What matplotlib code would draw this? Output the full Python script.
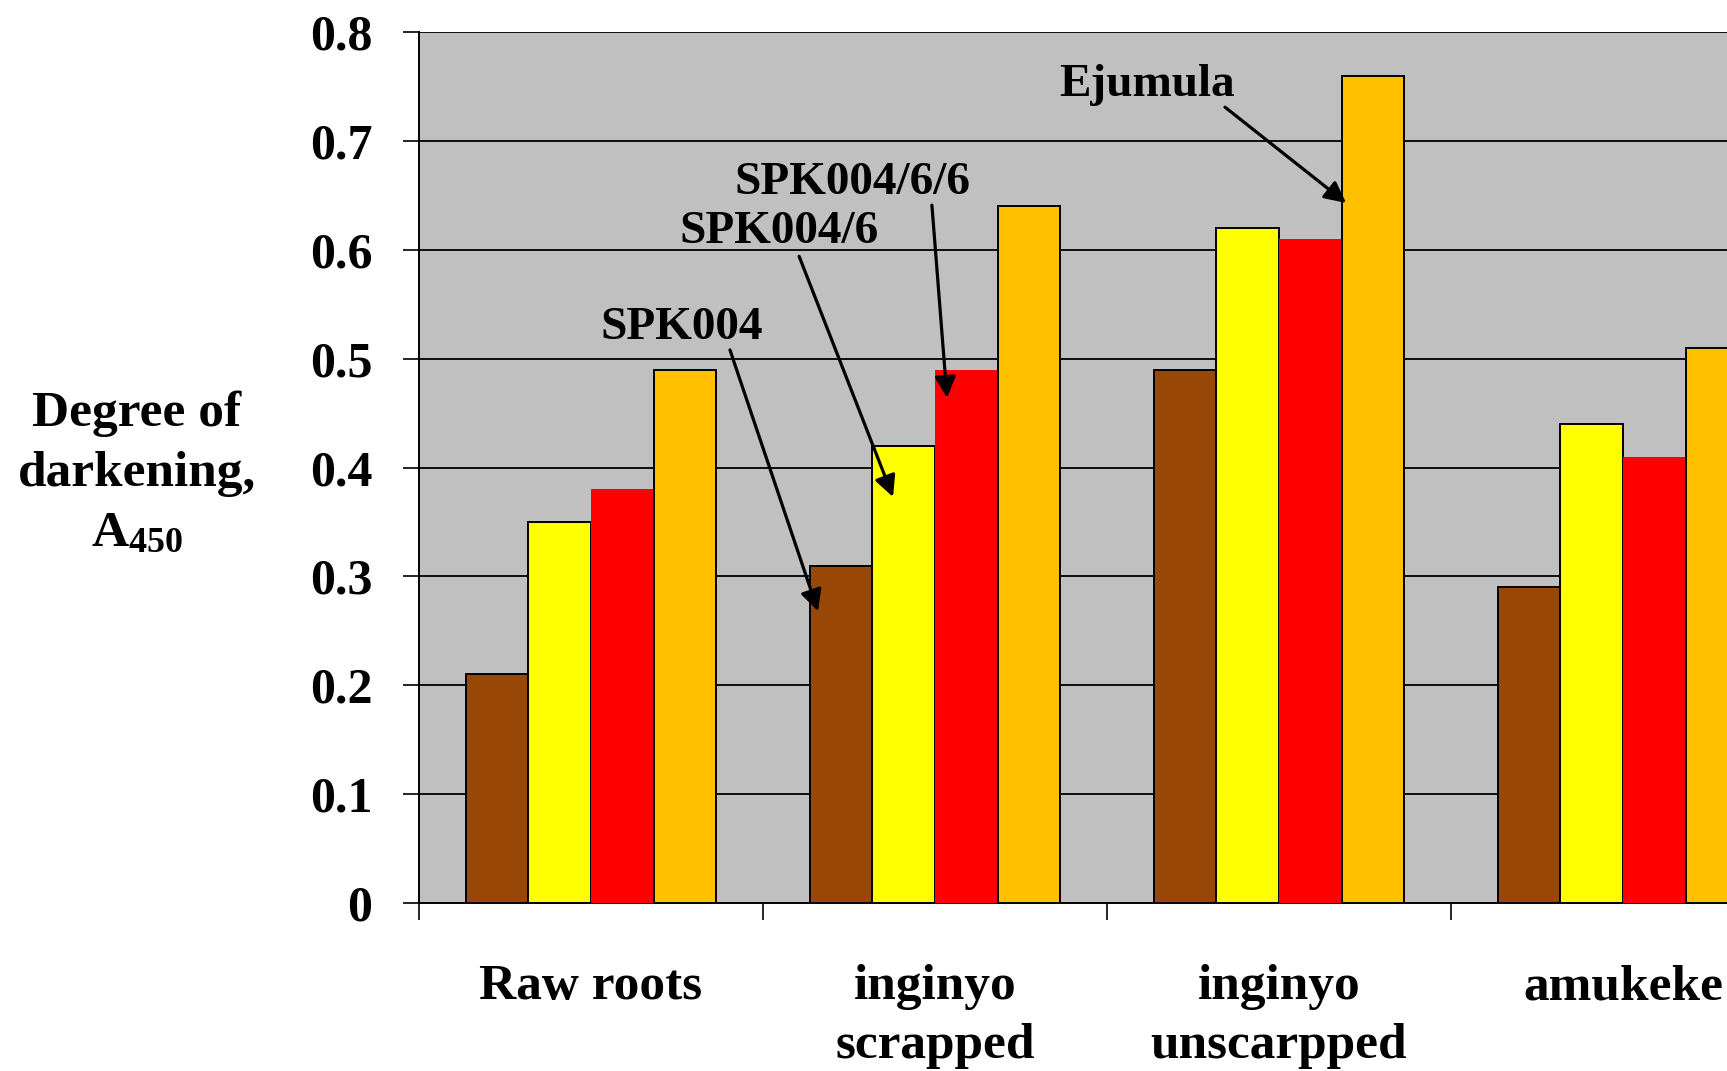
import matplotlib
matplotlib.use("Agg")
import matplotlib.pyplot as plt
import numpy as np

plt.rcParams['font.family'] = ['Liberation Serif', 'DejaVu Serif']
plt.rcParams['font.weight'] = 'bold'
plt.rcParams['mathtext.fontset'] = 'custom'
plt.rcParams['mathtext.rm'] = 'Liberation Serif:bold'
plt.rcParams['mathtext.it'] = 'Liberation Serif:bold'
plt.rcParams['mathtext.bf'] = 'Liberation Serif:bold'

# Processing stages and cultivars
categories = ["Raw roots", "inginyo\nscrapped", "inginyo\nunscarpped", "amukeke"]
cultivars = ["SPK004", "SPK004/6", "SPK004/6/6", "Ejumula"]

# Degree of darkening (A450) per cultivar, one value per processing stage
spk004 = [0.21, 0.31, 0.49, 0.29]
spk004_6 = [0.35, 0.42, 0.62, 0.44]
spk004_6_6 = [0.38, 0.49, 0.61, 0.41]
ejumula = [0.49, 0.64, 0.76, 0.51]

yticks = [0, 0.1, 0.2, 0.3, 0.4, 0.5, 0.6, 0.7, 0.8]
ytick_labels = ["0", "0.1", "0.2", "0.3", "0.4", "0.5", "0.6", "0.7", "0.8"]

series = [spk004, spk004_6, spk004_6_6, ejumula]
colors = ["#994707", "#FFFF00", "#FF0000", "#FFC000"]
edges = ["black", "black", "none", "black"]

fig = plt.figure(figsize=(17.27, 10.71), dpi=100)
ax = fig.add_axes([0.2426, 0.1568, 0.7968, 0.8133])
ax.set_facecolor("#C0C0C0")
ax.set_axisbelow(True)

n = len(series)
width = 1 / (n + 1.5)
x = np.arange(len(categories))
for i, (vals, c, ec) in enumerate(zip(series, colors, edges)):
    offs = (i - (n - 1) / 2) * width
    ax.bar(x + offs, vals, width=width, color=c, edgecolor=ec,
           linewidth=1.4, label=cultivars[i], zorder=3)

ax.set_xlim(-0.5, len(categories) - 0.5)
ax.set_ylim(0, 0.8)
ax.set_yticks(yticks)
ax.set_yticklabels(ytick_labels)
ax.yaxis.grid(True, color="black", linewidth=1.3)
ax.xaxis.grid(False)

# Major ticks sit on the category boundaries; labels go on minor ticks at centres
ax.set_xticks(np.arange(len(categories)) - 0.5)
ax.set_xticklabels([])
ax.set_xticks(x, minor=True)
ax.set_xticklabels(categories, minor=True, fontsize=37, fontweight="bold",
                   linespacing=1.38)
ax.tick_params(axis="x", which="minor", length=0, pad=44)
ax.tick_params(axis="x", which="major", length=12, width=1.2, direction="out")
ax.tick_params(axis="y", length=11.5, width=1.2, direction="out", pad=22,
               labelsize=36)
for lab in ax.get_yticklabels():
    lab.set_fontweight("bold")

for s in ["top", "right"]:
    ax.spines[s].set_visible(False)
for s in ["left", "bottom"]:
    ax.spines[s].set_linewidth(1.4)
    ax.spines[s].set_color("black")

fig.text(137 / 1727, 1 - 474 / 1071, "Degree of\ndarkening,\nA$_{450}$",
         ha="center", va="center", multialignment="center", fontsize=37,
         fontweight="bold", linespacing=1.4)

# Cultivar call-outs: (text position, arrow tail, arrow tip)
callouts = [
    ("SPK004", (0.265, 0.528), (0.404, 0.508), (0.660, 0.268)),
    ("SPK004/6", (0.547, 0.616), (0.605, 0.594), (0.878, 0.373)),
    ("SPK004/6/6", (0.759, 0.661), (0.991, 0.641), (1.035, 0.464)),
    ("Ejumula", (1.616, 0.751), (1.843, 0.731), (2.195, 0.643)),
]
for name, tpos, tail, tip in callouts:
    ax.text(tpos[0], tpos[1], name, ha="center", va="center", fontsize=34,
            fontweight="bold", zorder=6)
    ax.annotate("", xy=tip, xytext=tail,
                arrowprops=dict(arrowstyle="-|>", color="black", lw=2.3,
                                mutation_scale=32, shrinkA=0, shrinkB=0),
                zorder=6)

fig.savefig("out.png", dpi=100, facecolor="white")
